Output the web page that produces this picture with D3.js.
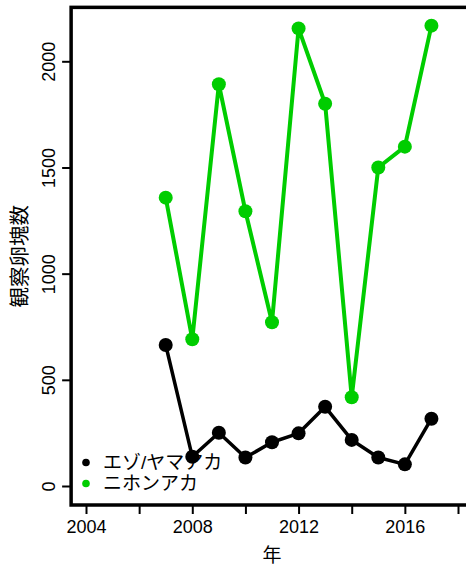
<!DOCTYPE html>
<html><head><meta charset="utf-8">
<script src="https://cdn.jsdelivr.net/npm/d3@7"></script>
<style>body{margin:0;background:#fff}svg{display:block}</style>
</head><body>
<svg id="c" width="466" height="569"></svg>
<script>
const years = [2007,2008,2009,2010,2011,2012,2013,2014,2015,2016,2017];
const ezoYamaaka = [664,138,251,134,206,248,373,217,134,102,317];
const nihonAka = [1358,691,1892,1294,771,2155,1800,418,1500,1598,2168];
const seriesNames = ["エゾ/ヤマアカ","ニホンアカ"];
const seriesColors = ["#000000","#00CD00"];
const xTicks = [2004,2006,2008,2010,2012,2014,2016,2018];
const xTickLabels = ["2004","","2008","","2012","","2016",""];
const yTicks = [0,500,1000,1500,2000];
const yTitle = "観察卵塊数";
const xTitle = "年";

const svg = d3.select("#c");
const x = d3.scaleLinear().domain([2004,2018]).range([86,458]);
const y = d3.scaleLinear().domain([0,2000]).range([486,61.3]);
const x0 = x(2003.44), x1 = x(2018.56);
const yTop = y(2254), yBot = y(-89.5);
const font = "'Liberation Sans', Arial, sans-serif";
const cjk = "'Liberation Sans', 'Noto Sans CJK JP', sans-serif";

// box
svg.append("rect").attr("x",x0).attr("y",yTop).attr("width",x1-x0).attr("height",yBot-yTop)
  .attr("fill","none").attr("stroke","#000").attr("stroke-width",3.5);

// x axis
const xa = svg.append("g").attr("transform",`translate(0,${yBot})`)
  .call(d3.axisBottom(x).tickValues(xTicks).tickSize(9).tickFormat((d,i)=>xTickLabels[i]).tickPadding(6));
xa.select(".domain").remove();
xa.selectAll("line").attr("stroke-width",2);
xa.selectAll("text").attr("font-family",font).attr("font-size",18).attr("fill","#000");

// y axis
const ya = svg.append("g").attr("transform",`translate(${x0},0)`)
  .call(d3.axisLeft(y).tickValues(yTicks).tickSize(9).tickFormat(d3.format("d")));
ya.select(".domain").remove();
ya.selectAll("line").attr("stroke-width",2);
ya.selectAll(".tick text").attr("font-family",font).attr("font-size",18).attr("fill","#000")
  .attr("text-anchor","middle").attr("x",0).attr("y",0).attr("dy",0)
  .attr("transform","translate(-16,0) rotate(-90)");

// titles
svg.append("text").attr("transform",`translate(27,${(yTop+yBot)/2}) rotate(-90)`)
  .attr("text-anchor","middle").attr("font-family",cjk).attr("font-size",20.5).text(yTitle);
svg.append("text").attr("x",(x0+x1)/2).attr("y",562).attr("text-anchor","middle")
  .attr("font-family",cjk).attr("font-size",19).text(xTitle);

const line = d3.line().x((d,i)=>x(years[i])).y(d=>y(d));
[ezoYamaaka, nihonAka].forEach((vals,k)=>{
  svg.append("path").attr("d",line(vals)).attr("fill","none")
    .attr("stroke",seriesColors[k]).attr("stroke-width",k===0?3.5:4).attr("stroke-linejoin","round");
  svg.append("g").selectAll("circle").data(vals).join("circle")
    .attr("cx",(d,i)=>x(years[i])).attr("cy",d=>y(d)).attr("r",7).attr("fill",seriesColors[k]);
});

// legend
const lg = svg.append("g");
seriesNames.forEach((n,k)=>{
  const cy = 462.5 + k*21;
  lg.append("circle").attr("cx",86).attr("cy",cy).attr("r",3.8).attr("fill",seriesColors[k]);
  lg.append("text").attr("x",103).attr("y",cy+6.8).attr("font-family",cjk).attr("font-size",19).text(n);
});
</script>
</body></html>
